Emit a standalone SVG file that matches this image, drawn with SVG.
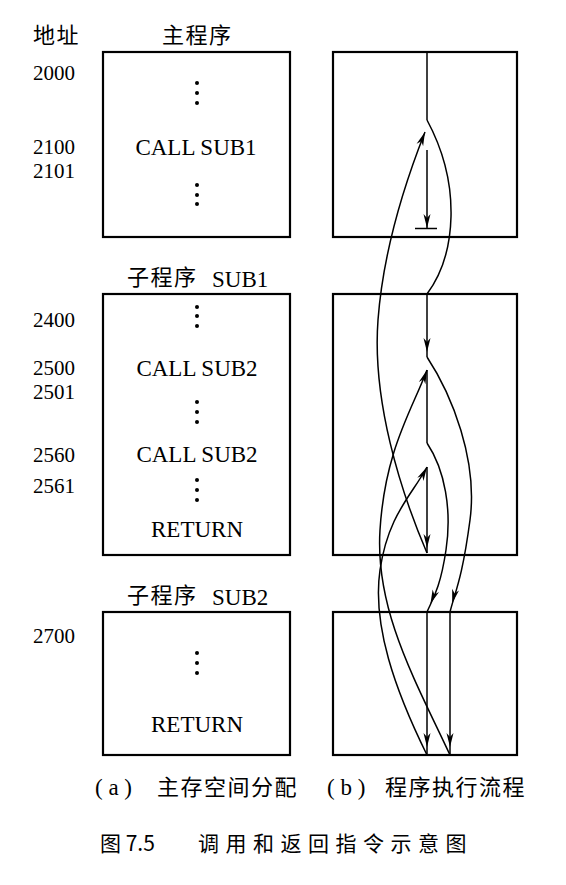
<svg xmlns="http://www.w3.org/2000/svg" width="566" height="885" viewBox="0 0 566 885">
<style>
.box{fill:none;stroke:#000;stroke-width:2.2}
.fl{fill:none;stroke:#000;stroke-width:1.5}
.lat{font-family:'Liberation Serif','DejaVu Serif',serif;font-size:23px;fill:#000}
.num{font-family:'Liberation Serif','DejaVu Serif',serif;font-size:21px;fill:#000}
.cjk{font-family:'Noto Sans CJK SC','Noto Sans CJK JP',sans-serif;font-size:22px;fill:#000;letter-spacing:1.5px}
.cap{font-family:'Noto Sans CJK SC','Noto Sans CJK JP',sans-serif;font-size:21px;fill:#000}
.dot{fill:#000}
</style>
<defs>
<marker id="a0" viewBox="-16 -5 30 10" refX="0" refY="0" markerWidth="30" markerHeight="10" markerUnits="userSpaceOnUse" orient="auto" overflow="visible"><path d="M0,0 L-14,-3.5 L-10,0 L-14,3.5 Z" fill="#000"/></marker>
<marker id="a5" viewBox="-16 -5 30 10" refX="5" refY="0" markerWidth="30" markerHeight="10" markerUnits="userSpaceOnUse" orient="auto" overflow="visible"><path d="M0,0 L-14,-3.5 L-10,0 L-14,3.5 Z" fill="#000"/></marker>
<marker id="a8" viewBox="-16 -5 30 10" refX="8" refY="0" markerWidth="30" markerHeight="10" markerUnits="userSpaceOnUse" orient="auto" overflow="visible"><path d="M0,0 L-14,-3.5 L-10,0 L-14,3.5 Z" fill="#000"/></marker>
<marker id="a9" viewBox="-16 -5 30 10" refX="9" refY="0" markerWidth="30" markerHeight="10" markerUnits="userSpaceOnUse" orient="auto" overflow="visible"><path d="M0,0 L-14,-3.5 L-10,0 L-14,3.5 Z" fill="#000"/></marker>
</defs>

<g id="headers">
<text class="cjk" x="33" y="43">地址</text>
<text class="cjk" x="162" y="43">主程序</text>
</g>

<g id="main-memory">
<rect class="box" x="103" y="52" width="187" height="185"/>
<text class="num" x="33" y="80" font-family="Liberation Serif">2000</text>
<circle class="dot" cx="197" cy="83" r="2"/><circle class="dot" cx="197" cy="93" r="2"/><circle class="dot" cx="197" cy="103" r="2"/>
<text class="num" x="33" y="154" font-family="Liberation Serif">2100</text>
<text class="num" x="33" y="178" font-family="Liberation Serif">2101</text>
<text class="lat" x="196" y="155" text-anchor="middle" font-family="Liberation Serif">CALL SUB1</text>
<circle class="dot" cx="197" cy="185" r="2"/><circle class="dot" cx="197" cy="195" r="2"/><circle class="dot" cx="197" cy="204" r="2"/>
</g>

<g id="sub1-memory">
<text class="cjk" x="127" y="285">子程序</text>
<text class="lat" x="212" y="287" font-family="Liberation Serif">SUB1</text>
<rect class="box" x="103" y="294" width="187" height="261"/>
<text class="num" x="33" y="327" font-family="Liberation Serif">2400</text>
<circle class="dot" cx="197" cy="307" r="2"/><circle class="dot" cx="197" cy="316" r="2"/><circle class="dot" cx="197" cy="326" r="2"/>
<text class="num" x="33" y="375" font-family="Liberation Serif">2500</text>
<text class="lat" x="197" y="376" text-anchor="middle" font-family="Liberation Serif">CALL SUB2</text>
<text class="num" x="33" y="399" font-family="Liberation Serif">2501</text>
<circle class="dot" cx="197" cy="402" r="2"/><circle class="dot" cx="197" cy="412" r="2"/><circle class="dot" cx="197" cy="422" r="2"/>
<text class="num" x="33" y="462" font-family="Liberation Serif">2560</text>
<text class="lat" x="197" y="462" text-anchor="middle" font-family="Liberation Serif">CALL SUB2</text>
<text class="num" x="33" y="493" font-family="Liberation Serif">2561</text>
<circle class="dot" cx="197" cy="480" r="2"/><circle class="dot" cx="197" cy="490" r="2"/><circle class="dot" cx="197" cy="500" r="2"/>
<text class="lat" x="197" y="537" text-anchor="middle" font-family="Liberation Serif">RETURN</text>
</g>

<g id="sub2-memory">
<text class="cjk" x="127" y="603">子程序</text>
<text class="lat" x="212" y="605" font-family="Liberation Serif">SUB2</text>
<rect class="box" x="103" y="612" width="187" height="143"/>
<text class="num" x="33" y="643" font-family="Liberation Serif">2700</text>
<circle class="dot" cx="197" cy="653" r="2"/><circle class="dot" cx="197" cy="663" r="2"/><circle class="dot" cx="197" cy="673" r="2"/>
<text class="lat" x="197" y="732" text-anchor="middle" font-family="Liberation Serif">RETURN</text>
</g>

<g id="main-flow"><rect class="box" x="333" y="52" width="184" height="185"/></g>
<g id="sub1-flow"><rect class="box" x="333" y="294" width="184" height="261"/></g>
<g id="sub2-flow"><rect class="box" x="333" y="612" width="184" height="143"/></g>

<g id="connectors">
<line class="fl" x1="427" y1="52" x2="427" y2="120"/>
<path class="fl" d="M427,120 C462,185 456,255 427,294"/>
<line class="fl" x1="427" y1="150" x2="427" y2="228" marker-end="url(#a0)"/>
<line class="fl" x1="415" y1="228.5" x2="437" y2="228.5"/>
<line class="fl" x1="427" y1="294" x2="427" y2="357" marker-end="url(#a5)"/>
<path class="fl" d="M427,357 C452,395 478,460 470,520 S455,592 450,612" marker-end="url(#a9)"/>
<line class="fl" x1="427" y1="370" x2="427" y2="443"/>
<path class="fl" d="M427,443 C445,470 452,510 446,550 S432,600 427,612" marker-end="url(#a9)"/>
<line class="fl" x1="427" y1="467" x2="427" y2="553" marker-end="url(#a5)"/>
<line class="fl" x1="427" y1="612" x2="427" y2="755" marker-end="url(#a8)"/>
<line class="fl" x1="450" y1="612" x2="450" y2="755" marker-end="url(#a8)"/>
<path class="fl" d="M450,755 C415,680 375,610 380,530 S412,410 427,370" marker-end="url(#a0)"/>
<path class="fl" d="M427,755 C395,690 372,625 380,570 S412,495 427,467" marker-end="url(#a0)"/>
<path class="fl" d="M427,553 C400,490 372,400 378,320 S410,170 425,132" marker-end="url(#a0)"/>
</g>

<g id="captions">
<text class="lat" x="95" y="795" font-size="22" font-family="Liberation Serif">( a )</text>
<text class="cjk" x="157" y="795">主存空间分配</text>
<text class="lat" x="327" y="795" font-size="22" font-family="Liberation Serif">( b )</text>
<text class="cjk" x="385" y="795">程序执行流程</text>
<text class="cap" x="100" y="851">图 7.5</text>
<text class="cap" x="198" y="851" letter-spacing="6.5">调用和返回指令示意图</text>
</g>
</svg>
